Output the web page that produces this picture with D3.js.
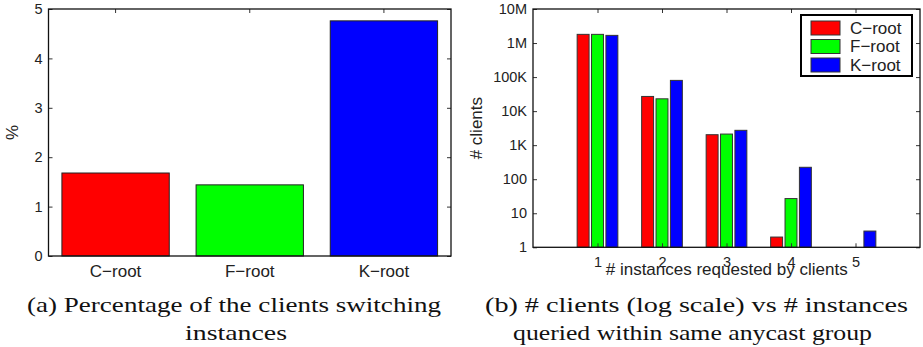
<!DOCTYPE html>
<html>
<head>
<meta charset="utf-8">
<script src="https://cdn.jsdelivr.net/npm/d3@7"></script>
<style>
  body { margin: 0; background: #fff; }
</style>
</head>
<body>
<script>
// data
const roots = ["C−root", "F−root", "K−root"];
const rootColors = ["#ff0000", "#00ff00", "#0000ff"];
const switchPct = [1.68, 1.44, 4.76];
const pctTicks = [0, 1, 2, 3, 4, 5];

const instances = [1, 2, 3, 4, 5];
const cClients = [1800000, 27000, 2030, 2, null];
const fClients = [1800000, 23000, 2120, 27, null];
const kClients = [1680000, 80000, 2730, 224, 3];
const logTicks = [1, 10, 100, 1e3, 1e4, 1e5, 1e6, 1e7];
const logLabels = ["1", "10", "100", "1K", "10K", "100K", "1M", "10M"];

const SANS = "'Liberation Sans', Arimo, Arial, Helvetica, sans-serif";
const SERIF = "'Liberation Serif', Tinos, 'Times New Roman', Times, serif";

const svg = d3.select("body").append("svg")
  .attr("width", 923)
  .attr("height", 347)
  .style("display", "block");

svg.append("rect").attr("width", 923).attr("height", 347).attr("fill", "#fff");

// ---------- (a) percentage switching ----------
const xa = d3.scaleBand()
  .domain(roots)
  .range([48.5, 451])
  .paddingInner(0.2)
  .paddingOuter(0.1);
const ya = d3.scaleLinear().domain([0, 5]).range([256, 9]);

const ga = svg.append("g");

ga.selectAll("rect.bar")
  .data(roots)
  .join("rect")
    .attr("class", "bar")
    .attr("x", d => xa(d))
    .attr("width", xa.bandwidth())
    .attr("y", (d, i) => ya(switchPct[i]))
    .attr("height", (d, i) => ya(0) - ya(switchPct[i]))
    .attr("fill", (d, i) => rootColors[i])
    .attr("stroke", "#222")
    .attr("stroke-width", 1);

function styleAxis(g, size) {
  g.select(".domain").remove();
  g.selectAll(".tick line").attr("stroke", "#333").attr("stroke-width", 1);
  g.selectAll(".tick text")
    .style("font-family", SANS)
    .style("font-size", size + "px")
    .attr("fill", "#222");
}

ga.append("g")
  .attr("transform", `translate(${xa.range()[0]},0)`)
  .call(d3.axisLeft(ya).tickValues(pctTicks).tickFormat(d3.format("d")).tickSize(-4).tickPadding(6))
  .call(g => styleAxis(g, 14.5));
ga.append("g")
  .attr("transform", `translate(${xa.range()[1]},0)`)
  .call(d3.axisRight(ya).tickValues(pctTicks).tickSize(-4).tickFormat(""))
  .call(g => styleAxis(g, 14.5));
ga.append("g")
  .attr("transform", `translate(0,${ya(0)})`)
  .call(d3.axisBottom(xa).tickSize(0).tickPadding(8.5))
  .call(g => styleAxis(g, 17));
ga.append("g")
  .attr("transform", `translate(0,${ya(5)})`)
  .call(d3.axisTop(xa).tickSize(-4).tickFormat(""))
  .call(g => styleAxis(g, 14.5));

ga.append("rect")
  .attr("x", xa.range()[0])
  .attr("y", ya(5))
  .attr("width", xa.range()[1] - xa.range()[0])
  .attr("height", ya(0) - ya(5))
  .attr("fill", "none")
  .attr("stroke", "#111")
  .attr("stroke-width", 1.3);

ga.append("text")
  .attr("transform", `translate(12,${(ya(0) + ya(5)) / 2}) rotate(-90)`)
  .attr("text-anchor", "middle")
  .attr("dy", "0.35em")
  .attr("fill", "#222")
  .style("font-family", SANS)
  .style("font-size", "17px")
  .text("%");

// ---------- (b) clients vs instances, log scale ----------
const xb = d3.scaleLinear().domain([0, 6]).range([533, 920]);
const yb = d3.scaleLog().domain([1, 1e7]).range([247.3, 9]);
const unit = xb(1) - xb(0);
const sub = d3.scaleBand()
  .domain(roots)
  .range([-unit / 3, unit / 3])
  .paddingInner(0.17)
  .paddingOuter(0.08);

const series = [cClients, fClients, kClients];
const bars = [];
series.forEach((vals, s) => {
  vals.forEach((v, i) => {
    if (v != null) bars.push({root: roots[s], color: rootColors[s], inst: instances[i], v: v});
  });
});

const gb = svg.append("g");

gb.selectAll("rect.bar")
  .data(bars)
  .join("rect")
    .attr("class", "bar")
    .attr("x", d => xb(d.inst) + sub(d.root))
    .attr("width", sub.bandwidth())
    .attr("y", d => yb(d.v))
    .attr("height", d => yb(1) - yb(d.v))
    .attr("fill", d => d.color)
    .attr("stroke", "#333")
    .attr("stroke-width", 1);

gb.append("g")
  .attr("transform", `translate(${xb.range()[0]},0)`)
  .call(d3.axisLeft(yb).tickValues(logTicks).tickFormat((d, i) => logLabels[i]).tickSize(-4).tickPadding(6))
  .call(g => styleAxis(g, 14.5));
gb.append("g")
  .attr("transform", `translate(${xb.range()[1]},0)`)
  .call(d3.axisRight(yb).tickValues(logTicks).tickSize(-4).tickFormat(""))
  .call(g => styleAxis(g, 14.5));
gb.append("g")
  .attr("transform", `translate(0,${yb(1)})`)
  .call(d3.axisBottom(xb).tickValues(instances).tickFormat(d3.format("d")).tickSize(-4).tickPadding(9))
  .call(g => styleAxis(g, 14.5));
gb.append("g")
  .attr("transform", `translate(0,${yb(1e7)})`)
  .call(d3.axisTop(xb).tickValues(instances).tickSize(-4).tickFormat(""))
  .call(g => styleAxis(g, 14.5));

gb.append("rect")
  .attr("x", xb.range()[0])
  .attr("y", yb(1e7))
  .attr("width", xb.range()[1] - xb.range()[0])
  .attr("height", yb(1) - yb(1e7))
  .attr("fill", "none")
  .attr("stroke", "#111")
  .attr("stroke-width", 1.3);

gb.append("text")
  .attr("transform", `translate(476,${(yb(1) + yb(1e7)) / 2}) rotate(-90)`)
  .attr("text-anchor", "middle")
  .attr("dy", "0.35em")
  .attr("fill", "#222")
  .style("font-family", SANS)
  .style("font-size", "17px")
  .text("# clients");

gb.append("text")
  .attr("x", 726.7)
  .attr("y", 275)
  .attr("text-anchor", "middle")
  .attr("fill", "#222")
  .style("font-family", SANS)
  .style("font-size", "17px")
  .text("# instances requested by clients");

// legend
const lx = xb.range()[1] - 119, ly = yb(1e7) + 6;
const legend = gb.append("g").attr("transform", `translate(${lx},${ly})`);
legend.append("rect")
  .attr("width", 111)
  .attr("height", 61)
  .attr("fill", "#fff")
  .attr("stroke", "#000")
  .attr("stroke-width", 2);
roots.forEach((r, i) => {
  legend.append("rect")
    .attr("x", 10)
    .attr("y", 6 + i * 18.5)
    .attr("width", 29)
    .attr("height", 14)
    .attr("fill", rootColors[i])
    .attr("stroke", "#333")
    .attr("stroke-width", 1);
  legend.append("text")
    .attr("x", 49)
    .attr("y", 13 + i * 18.5)
    .attr("dy", "0.35em")
    .attr("fill", "#222")
    .style("font-family", SANS)
    .style("font-size", "17px")
    .text(r);
});

// ---------- captions ----------
const captions = [
  {t: "(a) Percentage of the clients switching", x: 234, y: 312, len: 414},
  {t: "instances", x: 236, y: 340, len: 102},
  {t: "(b) # clients (log scale) vs # instances", x: 696.5, y: 312, len: 423},
  {t: "queried within same anycast group", x: 692.5, y: 340, len: 359}
];
svg.selectAll("text.caption")
  .data(captions)
  .join("text")
    .attr("class", "caption")
    .attr("x", d => d.x - d.len / 2)
    .attr("y", d => d.y)
    .attr("textLength", d => d.len)
    .attr("lengthAdjust", "spacingAndGlyphs")
    .attr("fill", "#111")
    .style("font-family", SERIF)
    .style("font-size", "22px")
    .text(d => d.t);
</script>
</body>
</html>
